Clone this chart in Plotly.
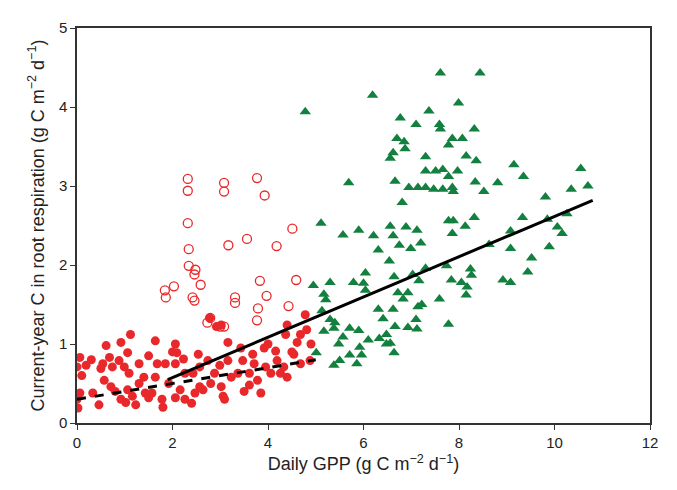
import plotly.graph_objects as go

# Filled red circles
red_x = [0.06, 0.0, 0.19, 0.06, 0.0, 0.02, 0.33, 0.46, 0.61, 0.54, 0.50, 0.68, 0.74, 0.57, 0.71,
         0.92, 0.88, 1.06, 0.99, 1.09, 1.12, 1.06, 1.16, 1.23, 1.02, 1.30, 1.40, 1.50, 1.43, 1.64,
         1.68, 1.64, 1.57, 1.78, 1.85, 1.92, 2.06, 2.09, 2.06, 2.23, 2.26, 2.16, 2.26, 2.43, 2.47,
         2.54, 2.57, 2.64, 2.74, 2.88, 2.99, 3.02, 3.06, 3.16, 3.16, 3.23, 3.37, 3.43, 3.47, 3.61,
         3.68, 3.71, 3.78, 3.92, 3.95, 4.06, 4.16, 4.19, 4.26, 4.40, 4.40, 4.37, 4.54, 4.61, 4.68,
         4.78, 4.81, 4.68, 4.88, 4.33, 3.85, 3.61, 3.09, 3.02, 2.78, 2.92, 0.92, 1.50, 2.06, 2.57,
         0.3, 0.8, 1.3, 2.0, 2.8, 3.5, 4.0, 4.5, 4.9, 0.1, 1.8, 2.4]
red_y = [0.83, 0.71, 0.73, 0.38, 0.30, 0.19, 0.38, 0.23, 0.98, 0.75, 0.69, 0.83, 0.71, 0.54, 0.46,
         1.02, 0.79, 0.89, 0.71, 0.63, 1.12, 0.42, 0.34, 0.23, 0.26, 0.75, 0.58, 0.85, 0.38, 1.04,
         0.75, 0.58, 0.38, 0.30, 0.75, 0.50, 1.00, 0.89, 0.75, 0.81, 0.63, 0.42, 0.30, 0.63, 0.38,
         0.87, 0.71, 0.42, 0.79, 0.63, 0.73, 0.46, 0.34, 1.02, 0.79, 0.58, 0.63, 0.95, 0.79, 0.63,
         0.87, 0.75, 0.54, 0.95, 0.71, 0.63, 0.91, 0.79, 0.63, 0.58, 1.24, 1.12, 0.87, 1.02, 1.12,
         1.37, 1.18, 0.75, 0.79, 0.71, 0.38, 0.48, 0.30, 1.24, 1.33, 1.22, 0.30, 0.32, 0.32, 0.46,
         0.8, 0.4, 0.5, 0.9, 0.5, 0.4, 1.0, 0.9, 1.0, 0.6, 0.2, 0.25]

# Open red circles
open_x = [2.32, 2.32, 3.08, 3.08, 3.77, 3.93, 2.32, 4.51, 3.17, 3.56, 4.18, 2.34, 2.34, 2.48, 2.46,
          2.59, 3.83, 4.59, 1.84, 2.03, 1.86, 2.42, 2.46, 3.97, 3.31, 3.31, 3.79, 4.43, 3.77, 2.79,
          2.73, 3.00, 3.08]
open_y = [3.09, 2.94, 3.04, 2.93, 3.10, 2.88, 2.53, 2.46, 2.25, 2.33, 2.24, 2.20, 1.99, 1.94, 1.88,
          1.75, 1.80, 1.81, 1.68, 1.73, 1.59, 1.59, 1.55, 1.61, 1.59, 1.52, 1.45, 1.48, 1.30, 1.33,
          1.27, 1.22, 1.22]

# Green triangles
green_x = [7.61, 8.44, 6.19, 4.78, 7.99, 7.37, 6.77, 7.10, 7.59, 7.61, 8.32, 6.70, 6.85, 6.87, 7.86,
           8.07, 7.78, 6.62, 6.56, 7.30, 8.15, 8.36, 7.30, 7.51, 7.66, 7.97, 7.78, 9.15, 9.35, 10.55,
           5.69, 6.66, 6.95, 7.14, 7.30, 7.47, 7.66, 7.86, 7.88, 8.34, 8.52, 8.81, 10.35, 10.70, 6.81,
           9.81, 5.11, 5.57, 5.90, 6.21, 6.56, 6.62, 6.89, 7.12, 6.75, 6.99, 7.20, 6.31, 7.78, 7.88,
           7.86, 8.13, 8.32, 9.33, 9.85, 10.26, 10.06, 10.16, 9.08, 8.63, 9.08, 9.89, 9.52, 9.44, 8.92,
           9.08, 6.54, 6.04, 6.00, 5.79, 5.30, 4.95, 5.17, 5.21, 6.04, 6.64, 7.03, 7.16, 7.30, 7.74,
           7.84, 8.24, 8.26, 8.05, 8.17, 8.15, 7.59, 6.72, 6.93, 6.83, 7.14, 7.22, 6.62, 6.31, 6.41,
           6.66, 6.93, 7.10, 7.12, 7.78, 6.48, 6.56, 6.64, 6.33, 6.10, 5.92, 5.96, 5.86, 5.71, 5.50,
           5.38, 5.01, 5.48, 5.57, 5.17, 5.38, 5.30, 5.13, 5.40, 5.71, 5.90, 6.48]
green_y = [4.43, 4.43, 4.15, 3.94, 4.05, 3.95, 3.86, 3.78, 3.78, 3.72, 3.72, 3.60, 3.56, 3.47, 3.60,
           3.60, 3.52, 3.42, 3.35, 3.37, 3.38, 3.32, 3.19, 3.19, 3.21, 3.19, 3.12, 3.27, 3.12, 3.22,
           3.04, 3.06, 2.98, 2.98, 2.98, 2.96, 2.96, 2.98, 2.93, 3.05, 2.93, 3.04, 2.96, 3.00, 2.79,
           2.86, 2.53, 2.38, 2.44, 2.37, 2.49, 2.37, 2.48, 2.44, 2.25, 2.21, 2.28, 2.19, 2.56, 2.56,
           2.40, 2.49, 2.60, 2.60, 2.58, 2.65, 2.48, 2.40, 2.43, 2.26, 2.21, 2.23, 2.09, 1.91, 1.81,
           1.78, 2.05, 1.90, 1.77, 1.78, 1.78, 1.74, 1.63, 1.56, 1.68, 1.85, 1.88, 1.80, 1.96, 1.99,
           1.81, 1.95, 1.87, 1.78, 1.72, 1.62, 1.57, 1.65, 1.65, 1.57, 1.47, 1.50, 1.44, 1.44, 1.32,
           1.22, 1.21, 1.31, 1.19, 1.25, 1.12, 1.01, 0.89, 1.07, 1.05, 0.96, 0.86, 0.75, 0.86, 0.79,
           0.73, 0.89, 1.00, 1.09, 1.16, 1.20, 1.31, 1.42, 1.27, 1.20, 1.17, 1.00]

# Regression lines: x range, intercept, slope
dash_x = [0.0, 5.0]
dash_fit = (0.30, 0.10)
solid_x = [1.9, 10.8]
solid_fit = (0.065, 0.255)

RED = "#e8282b"
GREEN = "#13803f"

fig = go.Figure()
fig.add_trace(go.Scatter(x=open_x, y=open_y, mode="markers",
                         marker=dict(symbol="circle-open", size=9, color=RED, line=dict(width=1.3))))
fig.add_trace(go.Scatter(x=red_x, y=red_y, mode="markers",
                         marker=dict(symbol="circle", size=9, color=RED)))
fig.add_trace(go.Scatter(x=green_x, y=green_y, mode="markers",
                         marker=dict(symbol="triangle-up", size=10, color=GREEN)))
fig.add_trace(go.Scatter(x=dash_x, y=[dash_fit[0] + dash_fit[1] * x for x in dash_x], mode="lines",
                         line=dict(color="black", width=3, dash="dash")))
fig.add_trace(go.Scatter(x=solid_x, y=[solid_fit[0] + solid_fit[1] * x for x in solid_x], mode="lines",
                         line=dict(color="black", width=3)))

axis = dict(showgrid=False, zeroline=False, showline=True, linecolor="#333", linewidth=1.5,
            mirror=True, ticks="outside", ticklen=5, tickcolor="#333",
            tickfont=dict(size=15, color="#222"))
fig.update_layout(
    width=661, height=474, showlegend=False,
    plot_bgcolor="white", paper_bgcolor="white",
    margin=dict(l=69, r=12, t=11, b=58),
    font=dict(family="Arial, Liberation Sans, sans-serif", size=15, color="#222"),
    xaxis=dict(axis, range=[0, 12], dtick=2,
               title=dict(text="Daily GPP (g C m<sup>\u22122</sup> d<sup>\u22121</sup>)", standoff=8)),
    yaxis=dict(axis, range=[0, 5], dtick=1,
               title=dict(text="Current-year C in root respiration (g C m<sup>\u22122</sup> d<sup>\u22121</sup>)", standoff=10)),
)
fig.write_html("out.html")
